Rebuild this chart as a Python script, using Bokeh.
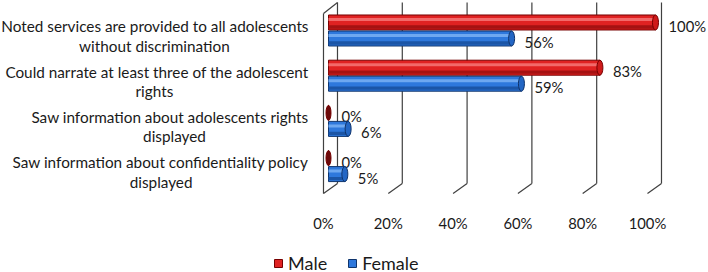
from bokeh.plotting import figure
from bokeh.layouts import column
from bokeh.models import Range1d, LinearAxis, FixedTicker, Legend, LegendItem, ColumnDataSource
from bokeh.core.properties import value
from bokeh.embed import file_html
from bokeh.resources import INLINE

# ---------------- data ----------------
cat_line1 = [
    "Noted services are provided to all adolescents",
    "Could narrate at least three of the adolescent",
    "Saw information about adolescents rights",
    "Saw information about confidentiality policy",
]
cat_line2 = [
    "without discrimination",
    "rights",
    "displayed",
    "displayed",
]
series = ["Male", "Female"]
male = [100, 83, 0, 0]
female = [56, 59, 6, 5]
ticks = [0, 20, 40, 60, 80, 100]
tick_labels = ["0%", "20%", "40%", "60%", "80%", "100%"]

# ---------------- layout ----------------
W = 708
H_MAIN, H_LEG = 244, 28
FRAME_H = 212
FONT = "Lato"
TXT = "#1a1a1a"
GRID = "#404040"

n = len(cat_line1)
cats = list(range(n))

p = figure(width=W, height=H_MAIN, output_backend="svg", toolbar_location=None,
           x_range=Range1d(-99.69, 118.83), y_range=Range1d(4.027, -0.6637),
           x_axis_type=None, y_axis_type=None,
           min_border_left=0, min_border_right=0, min_border_top=0,
           min_border_bottom=H_MAIN - FRAME_H)
p.extra_x_ranges = {"bars": Range1d(-100.31, 116.21)}
p.outline_line_color = None
p.background_fill_color = "white"
p.border_fill_color = "white"

# ---- 3D frame (walls / floor / gridlines) ----
DX = 4.32           # depth offset in % units
Y_TOP_BACK, Y_FLOOR_BACK = -0.6195, 3.385
Y_TOP_FRONT, Y_FLOOR_FRONT = -0.376, 3.606

p.segment(x0=[t + DX for t in ticks], y0=[Y_TOP_BACK] * len(ticks),
          x1=[t + DX for t in ticks], y1=[Y_FLOOR_BACK] * len(ticks),
          line_color=GRID, line_width=1.2)
p.segment(x0=[t + DX for t in ticks], y0=[Y_FLOOR_BACK] * len(ticks),
          x1=ticks, y1=[Y_FLOOR_FRONT] * len(ticks),
          line_color=GRID, line_width=1.2)
p.segment(x0=[ticks[0], ticks[0]], y0=[Y_TOP_FRONT, Y_TOP_FRONT],
          x1=[ticks[0], ticks[0] + DX], y1=[Y_FLOOR_FRONT, Y_TOP_BACK],
          line_color=GRID, line_width=1.2)

# ---- cylinders ----
OFF = 0.177
BH = 0.332
styles = {
    "Male": dict(main="#e02222", light="#f26a6a", dark="#a51212", line="#760000",
                 cap="#cf1a1a", zero="#6b0a0a"),
    "Female": dict(main="#2e78dc", light="#6ea8f0", dark="#1b55a6", line="#0f346c",
                   cap="#2366c4", zero="#0f2a5a"),
}
for name, vals, sign in [("Male", male, -1), ("Female", female, 1)]:
    st = styles[name]
    ys = [c + sign * OFF for c in cats]
    src = ColumnDataSource(dict(y=ys, v=vals, left=[0] * n,
                                lab=["%d%%" % v for v in vals]))
    p.hbar(y="y", left="left", right="v", height=BH, source=src,
           fill_color=st["main"], line_color=st["line"], line_width=1,
           x_range_name="bars")
    p.hbar(y=[y - BH * 0.2 for y in ys], left=[0] * n, right=vals, height=BH * 0.2,
           fill_color=st["light"], line_color=None, x_range_name="bars")
    p.hbar(y=[y + BH * 0.3 for y in ys], left=[0] * n, right=vals, height=BH * 0.22,
           fill_color=st["dark"], line_color=None, x_range_name="bars")
    cap_cols = [st["zero"] if v == 0 else st["cap"] for v in vals]
    cap_w = [5 if v == 0 else 6 for v in vals]
    p.ellipse(x=vals, y=ys, width=cap_w, height=[BH] * n, width_units="screen",
              fill_color=cap_cols, line_color=st["line"], line_width=1,
              x_range_name="bars")
    p.text(x="v", y="y", text="lab", source=src, x_range_name="bars",
           x_offset=13, y_offset=3.5, text_align="left", text_baseline="middle",
           text_font=value(FONT), text_font_size="14.8px", text_color=TXT)

# ---- category labels ----
CW = 6.7   # approx char width for centring second line
p.text(x=[0] * n, y=cats, text=cat_line1, x_offset=-15, y_offset=-4,
       text_align="right", text_baseline="middle", text_font=value(FONT),
       text_font_size="15.3px", text_color=TXT)
for i in cats:
    p.text(x=[0], y=[i], text=[cat_line2[i]],
           x_offset=-15 - len(cat_line1[i]) * CW / 2, y_offset=15.5,
           text_align="center", text_baseline="middle", text_font=value(FONT),
           text_font_size="15.3px", text_color=TXT)

# ---- x axis ----
xaxis = LinearAxis(ticker=FixedTicker(ticks=ticks),
                   major_label_overrides={t: l for t, l in zip(ticks, tick_labels)},
                   axis_line_color=None, major_tick_line_color=None,
                   minor_tick_line_color=None, major_tick_out=0, major_tick_in=0,
                   major_label_standoff=1,
                   major_label_text_font=FONT, major_label_text_font_size="14.8px",
                   major_label_text_color=TXT)
p.add_layout(xaxis, "below")

# ---- legend (own strip) ----
pl = figure(width=W, height=H_LEG, output_backend="svg", toolbar_location=None,
            x_range=Range1d(0, 1), y_range=Range1d(0, 1),
            x_axis_type=None, y_axis_type=None,
            min_border_left=0, min_border_right=0, min_border_top=0, min_border_bottom=0)
pl.outline_line_color = None
pl.background_fill_color = "white"
pl.border_fill_color = "white"
leg_items = []
for s in series:
    st = styles[s]
    # off-range sample glyph: only its legend swatch is visible
    r = pl.hbar(y=[-10], left=[0], right=[1], height=0.5, fill_color=st["main"],
                line_color=st["line"], line_width=1)
    leg_items.append(LegendItem(label=s, renderers=[r]))
legend = Legend(items=leg_items, orientation="horizontal", location=(273, -1.5),
                padding=0, margin=0, spacing=20, border_line_color=None,
                background_fill_alpha=0, glyph_width=10, glyph_height=10,
                label_height=10, label_standoff=5,
                label_text_font=FONT, label_text_font_size="18px",
                label_text_color=TXT, label_text_baseline="middle")
pl.add_layout(legend)

layout = column(p, pl, spacing=0)
open("out.html", "w").write(file_html(layout, INLINE))
